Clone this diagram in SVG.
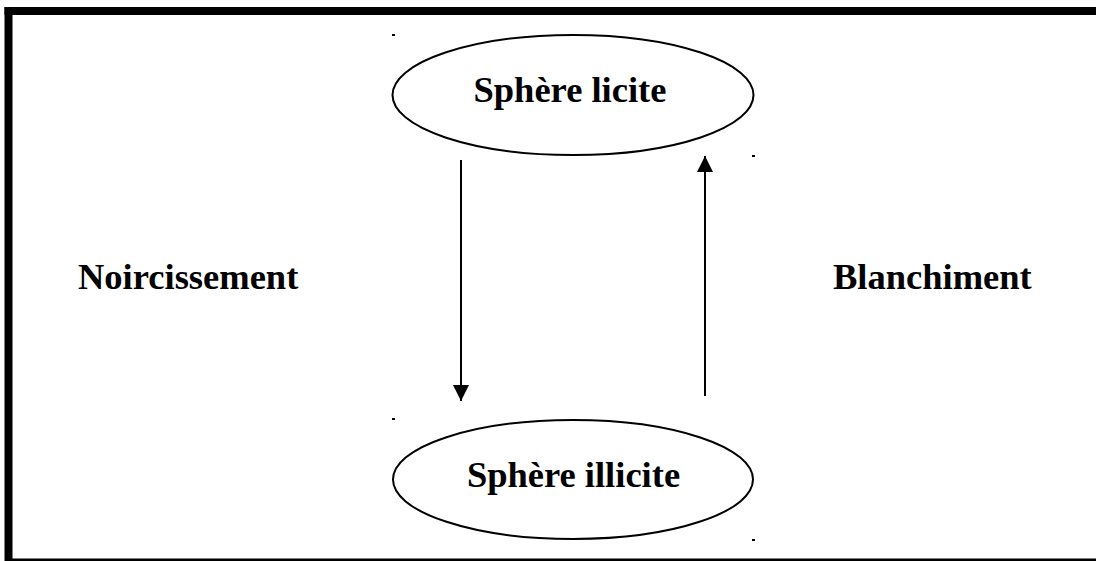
<svg xmlns="http://www.w3.org/2000/svg" width="1096" height="561" viewBox="0 0 1096 561">
  <defs>
    <style>
      .ell { fill: #fff; stroke: #000; stroke-width: 2; }
      .lbl { font-family: "Liberation Serif", "Times New Roman", serif; font-weight: bold; font-size: 36.5px; fill: #000; }
      .conn { stroke: #000; stroke-width: 2; fill: none; }
      .dot { fill: #000; }
    </style>
    <marker id="ah" viewBox="0 0 16 16" refX="16" refY="8" markerWidth="16" markerHeight="16" markerUnits="userSpaceOnUse" orient="auto">
      <path d="M0,0 L16,8 L0,16 Z" fill="#000"/>
    </marker>
  </defs>
  <rect width="1096" height="561" fill="#fff"/>
  <g id="frame">
    <rect x="4.5" y="7" width="1091.5" height="8" fill="#000"/>
    <rect x="4.5" y="7" width="8" height="554" fill="#000"/>
    <rect x="12" y="558.5" width="1084" height="2.5" fill="#000"/>
  </g>
  <g id="connectors">
    <line class="conn" x1="461" y1="160" x2="461" y2="401" marker-end="url(#ah)"/>
    <line class="conn" x1="705" y1="396" x2="705" y2="156" marker-end="url(#ah)"/>
  </g>
  <g id="sphere-licite">
    <ellipse class="ell" cx="573" cy="95" rx="180.5" ry="60"/>
    <text class="lbl" x="570" y="102" text-anchor="middle">Sphère licite</text>
  </g>
  <g id="sphere-illicite">
    <ellipse class="ell" cx="573" cy="479.5" rx="180" ry="59.5"/>
    <text class="lbl" x="573.5" y="487" text-anchor="middle">Sphère illicite</text>
  </g>
  <g id="noircissement">
    <text class="lbl" x="78" y="289">Noircissement</text>
  </g>
  <g id="blanchiment">
    <text class="lbl" x="833" y="289">Blanchiment</text>
  </g>
  <g id="dots">
    <rect class="dot" x="392" y="34" width="3" height="2"/>
    <rect class="dot" x="752" y="155" width="3" height="2"/>
    <rect class="dot" x="392" y="418" width="3" height="2"/>
    <rect class="dot" x="752" y="539" width="3" height="2"/>
  </g>
</svg>
